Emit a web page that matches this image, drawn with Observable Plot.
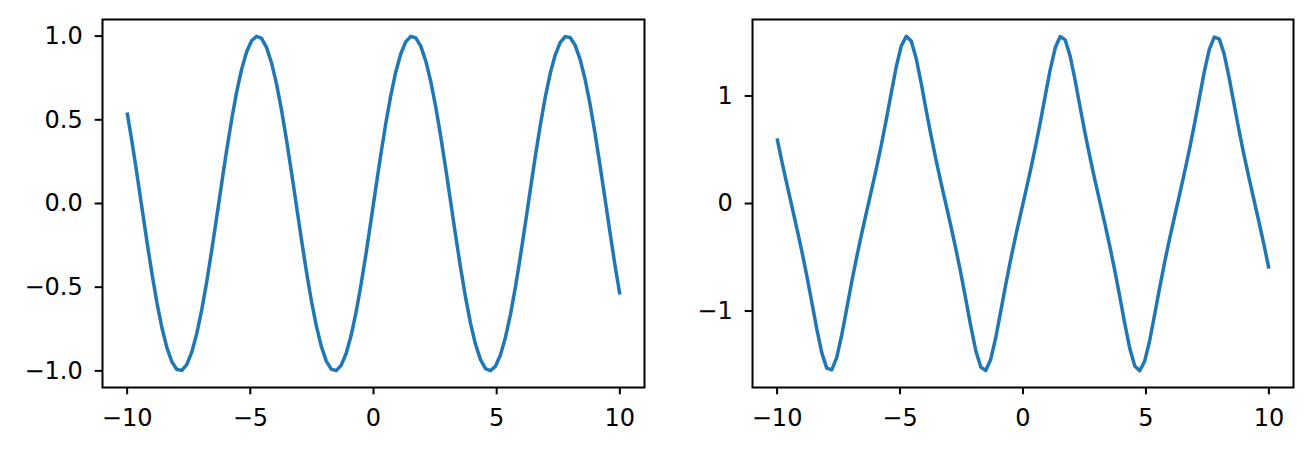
<!DOCTYPE html>
<html>
<head>
<meta charset="utf-8">
<script src="https://cdn.jsdelivr.net/npm/d3@7"></script>
<script src="https://cdn.jsdelivr.net/npm/@observablehq/plot@0.6"></script>
<style>
  html, body { margin: 0; padding: 0; background: #fff; }
  #wrap { position: relative; width: 1312px; height: 452px; overflow: hidden; }
  #wrap > div { position: absolute; top: 0; }
  #wrap svg text { font-size: 24px !important; font-family: 'DejaVu Sans', sans-serif !important; fill: #000; }
</style>
</head>
<body>
<div id="wrap"><div id="left" style="left:0px"></div><div id="right" style="left:656px"></div></div>
<script>
const xValues = [
  -10, -9.798, -9.596, -9.394, -9.192, -8.990, -8.788, -8.586, -8.384, -8.182,
  -7.980, -7.778, -7.576, -7.374, -7.172, -6.970, -6.768, -6.566, -6.364, -6.162,
  -5.960, -5.758, -5.556, -5.354, -5.152, -4.949, -4.747, -4.545, -4.343, -4.141,
  -3.939, -3.737, -3.535, -3.333, -3.131, -2.929, -2.727, -2.525, -2.323, -2.121,
  -1.919, -1.717, -1.515, -1.313, -1.111, -0.909, -0.707, -0.505, -0.303, -0.101,
  0.101, 0.303, 0.505, 0.707, 0.909, 1.111, 1.313, 1.515, 1.717, 1.919,
  2.121, 2.323, 2.525, 2.727, 2.929, 3.131, 3.333, 3.535, 3.737, 3.939,
  4.141, 4.343, 4.545, 4.747, 4.949, 5.152, 5.354, 5.556, 5.758, 5.960,
  6.162, 6.364, 6.566, 6.768, 6.970, 7.172, 7.374, 7.576, 7.778, 7.980,
  8.182, 8.384, 8.586, 8.788, 8.990, 9.192, 9.394, 9.596, 9.798, 10
];
const leftValues = [
  0.5440, 0.3646, 0.1704, -0.0309, -0.2308, -0.4213, -0.5947, -0.7440, -0.8630, -0.9467,
  -0.9920, -0.9971, -0.9616, -0.8869, -0.7761, -0.6338, -0.4658, -0.2788, -0.0803, 0.1213,
  0.3180, 0.5017, 0.6651, 0.8014, 0.9052, 0.9720, 0.9994, 0.9861, 0.9327, 0.8414,
  0.7158, 0.5612, 0.3837, 0.1905, -0.0103, -0.2107, -0.4025, -0.5780, -0.7301, -0.8523,
  -0.9399, -0.9893, -0.9985, -0.9670, -0.8962, -0.7890, -0.6496, -0.4839, -0.2984, -0.1008,
  0.1008, 0.2984, 0.4839, 0.6496, 0.7890, 0.8962, 0.9670, 0.9985, 0.9893, 0.9399,
  0.8523, 0.7301, 0.5780, 0.4025, 0.2107, 0.0103, -0.1905, -0.3837, -0.5612, -0.7158,
  -0.8414, -0.9327, -0.9861, -0.9994, -0.9720, -0.9052, -0.8014, -0.6651, -0.5017, -0.3180,
  -0.1213, 0.0803, 0.2788, 0.4658, 0.6338, 0.7761, 0.8869, 0.9616, 0.9971, 0.9920,
  0.9467, 0.8630, 0.7440, 0.5947, 0.4213, 0.2308, 0.0309, -0.1704, -0.3646, -0.5440
];
const rightValues = [
  0.6049, 0.3817, 0.1721, -0.0309, -0.2350, -0.4484, -0.6765, -0.9204, -1.1684, -1.3886,
  -1.5304, -1.5475, -1.4333, -1.2268, -0.9815, -0.7349, -0.5025, -0.2862, -0.0805, 0.1219,
  0.3292, 0.5485, 0.7842, 1.0325, 1.2737, 1.4654, 1.5554, 1.5108, 1.3485, 1.1188,
  0.8696, 0.6286, 0.4036, 0.1928, -0.0103, -0.2139, -0.4264, -0.6523, -0.8952, -1.1436,
  -1.3690, -1.5214, -1.5523, -1.4498, -1.2504, -1.0072, -0.7596, -0.5255, -0.3076, -0.1011,
  0.1011, 0.3076, 0.5255, 0.7596, 1.0072, 1.2504, 1.4498, 1.5523, 1.5214, 1.3690,
  1.1436, 0.8952, 0.6523, 0.4264, 0.2139, 0.0103, -0.1928, -0.4036, -0.6286, -0.8696,
  -1.1188, -1.3485, -1.5108, -1.5554, -1.4654, -1.2737, -1.0325, -0.7842, -0.5485, -0.3292,
  -0.1219, 0.0805, 0.2862, 0.5025, 0.7349, 0.9815, 1.2268, 1.4333, 1.5475, 1.5304,
  1.3886, 1.1684, 0.9204, 0.6765, 0.4484, 0.2350, 0.0309, -0.1721, -0.3817, -0.6049
];
const xTicks = [-10, -5, 0, 5, 10];
const leftYTicks = [-1.0, -0.5, 0.0, 0.5, 1.0];
const rightYTicks = [-1, 0, 1];

const LINE = "#1f77b4";
const FONT = "'DejaVu Sans', sans-serif";

function padded(vals) {
  const [lo, hi] = d3.extent(vals);
  const m = (hi - lo) * 0.05;
  return [lo - m, hi + m];
}

function panel(yValues, yTicks, yFmt, margins) {
  const data = xValues.map((x, i) => ({x, y: yValues[i]}));
  return Plot.plot({
    width: 656,
    height: 452,
    marginLeft: margins.left,
    marginRight: margins.right,
    marginTop: 19,
    marginBottom: 65,
    style: {fontFamily: FONT, fontSize: "24px", color: "black", background: "white", overflow: "visible"},
    x: {domain: padded(xValues), ticks: xTicks},
    y: {domain: padded(yValues), ticks: yTicks},
    marks: [
      Plot.line(data, {x: "x", y: "y", stroke: LINE, strokeWidth: 3.5, strokeLinejoin: "round", strokeLinecap: "butt"}),
      Plot.frame({stroke: "black", strokeWidth: 2}),
      Plot.axisX({ticks: xTicks, tickSize: 7.3, tickPadding: 14, strokeWidth: 2, fontSize: 24, fill: "black", stroke: "black", label: null, tickFormat: d3.format("d")}),
      Plot.axisY({ticks: yTicks, tickSize: 7.3, tickPadding: 12.5, strokeWidth: 2, fontSize: 24, fill: "black", stroke: "black", label: null, tickFormat: yFmt})
    ]
  });
}

document.getElementById("left").appendChild(
  panel(leftValues, leftYTicks, d3.format(".1f"), {left: 102, right: 12})
);
document.getElementById("right").appendChild(
  panel(rightValues, rightYTicks, d3.format("d"), {left: 96, right: 19})
);
</script>
</body>
</html>
